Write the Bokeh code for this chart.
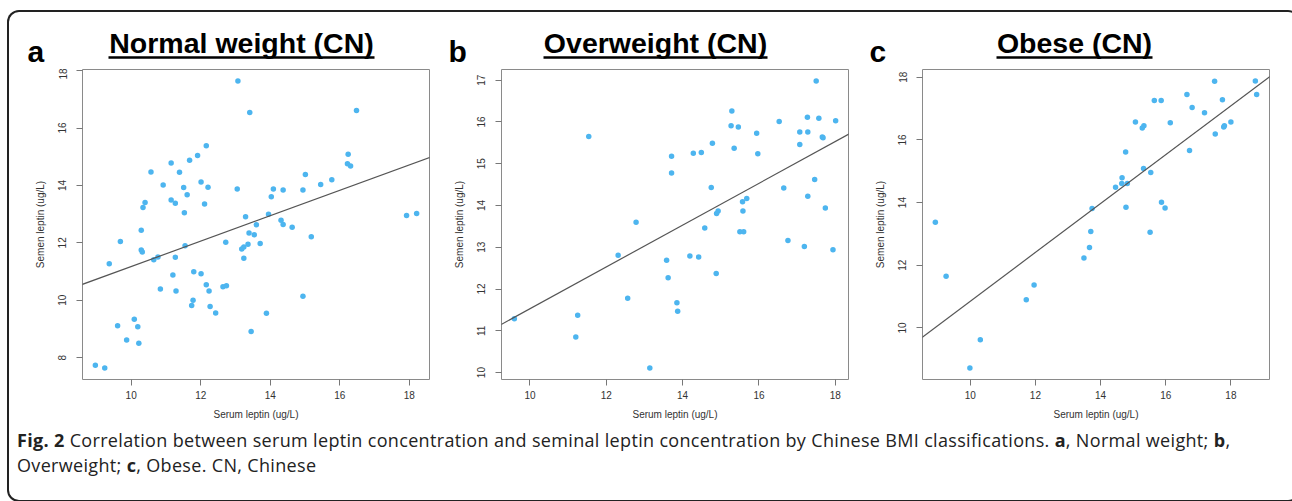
from bokeh.plotting import figure
from bokeh.models import Range1d, FixedTicker, Slope, Div, Spacer
from bokeh.layouts import column, row
from bokeh.embed import file_html
from bokeh.resources import INLINE
from bokeh.core.properties import value

# ---------------- data ----------------
a_serum = [13.07, 13.41, 16.48, 12.16, 11.91, 11.68, 11.15, 10.57, 11.39, 12.01,
           10.92, 11.51, 12.21, 13.05, 14.09, 14.37, 14.94, 15.01, 15.45, 15.77,
           16.24, 16.22, 16.31, 11.61, 14.03, 11.15, 11.27, 10.40, 10.34, 12.11,
           11.53, 13.29, 13.95, 14.31, 14.37, 13.60, 14.63, 10.29, 13.39, 13.54,
           15.18, 9.69, 12.72, 13.71, 13.36, 13.24, 13.18, 11.55, 10.29, 10.32,
           13.24, 17.92, 18.21, 9.37, 10.77, 10.65, 11.27, 11.80, 12.01, 11.20,
           12.16, 12.64, 12.74, 10.84, 11.29, 12.24, 14.94, 11.78, 11.74, 12.27,
           12.43, 13.89, 10.09, 9.61, 10.19, 9.87, 10.22, 13.45, 8.97, 9.24]
a_semen = [17.64, 16.54, 16.61, 15.38, 15.04, 14.88, 14.78, 14.47, 14.46, 14.12,
           14.02, 13.93, 13.94, 13.88, 13.88, 13.84, 13.84, 14.38, 14.03, 14.20,
           15.09, 14.76, 14.68, 13.68, 13.61, 13.49, 13.38, 13.41, 13.23, 13.35,
           13.05, 12.91, 13.00, 12.79, 12.64, 12.63, 12.54, 12.44, 12.34, 12.28,
           12.21, 12.05, 12.02, 11.98, 11.95, 11.86, 11.79, 11.90, 11.75, 11.68,
           11.46, 12.95, 13.02, 11.27, 11.51, 11.41, 11.50, 10.99, 10.92, 10.88,
           10.54, 10.47, 10.51, 10.39, 10.32, 10.32, 10.14, 10.00, 9.82, 9.78,
           9.56, 9.55, 9.34, 9.11, 9.08, 8.62, 8.50, 8.91, 7.74, 7.64]

b_serum = [17.50, 15.29, 15.27, 15.46, 16.53, 17.27, 17.57, 18.01, 11.54, 15.35,
           15.94, 17.07, 17.28, 17.07, 17.66, 17.68, 15.97, 14.78, 14.28, 14.49,
           13.71, 13.71, 14.75, 16.65, 17.46, 17.28, 15.68, 15.57, 15.58, 17.74,
           14.93, 14.89, 12.78, 14.58, 15.50, 15.60, 16.76, 17.19, 17.94, 12.31,
           14.19, 14.42, 13.58, 13.62, 14.88, 12.56, 13.85, 13.87, 9.59, 11.25,
           11.20, 13.14]
b_semen = [16.98, 16.26, 15.91, 15.88, 16.01, 16.11, 16.09, 16.03, 15.65, 15.37,
           15.73, 15.76, 15.76, 15.46, 15.64, 15.62, 15.24, 15.49, 15.25, 15.27,
           15.18, 14.78, 14.43, 14.42, 14.62, 14.22, 14.17, 14.09, 13.87, 13.94,
           13.87, 13.81, 13.60, 13.46, 13.37, 13.37, 13.16, 13.02, 12.94, 12.81,
           12.79, 12.77, 12.69, 12.27, 12.37, 11.78, 11.67, 11.47, 11.29, 11.37,
           10.85, 10.11]

c_serum = [17.50, 18.75, 18.79, 16.65, 15.65, 15.86, 17.74, 16.81, 17.19, 15.07,
           15.33, 15.28, 16.14, 18.00, 17.80, 17.78, 17.52, 16.73, 14.77, 15.32,
           15.54, 14.66, 14.65, 14.82, 14.46, 15.87, 15.98, 14.78, 13.74, 8.93,
           13.70, 15.52, 13.66, 13.49, 9.26, 11.96, 11.72, 10.31, 9.99]
c_semen = [17.87, 17.88, 17.45, 17.45, 17.26, 17.26, 17.28, 17.03, 16.87, 16.57,
           16.45, 16.38, 16.55, 16.57, 16.45, 16.41, 16.19, 15.66, 15.61, 15.09,
           14.96, 14.79, 14.61, 14.61, 14.49, 14.01, 13.83, 13.85, 13.81, 13.37,
           13.08, 13.05, 12.57, 12.23, 11.65, 11.37, 10.90, 9.62, 8.72]

# regression lines (intercept, slope)
fit_a = (6.75, 0.4425)
fit_b = (6.53, 0.50)
fit_c = (3.05, 0.78)

x_ticks = [10, 12, 14, 16, 18]
a_y_ticks = [8, 10, 12, 14, 16, 18]
b_y_ticks = [10, 11, 12, 13, 14, 15, 16, 17]
c_y_ticks = [10, 12, 14, 16, 18]

letters = ["a", "b", "c"]
titles = ["Normal weight (CN)", "Overweight (CN)", "Obese (CN)"]
x_label = "Serum leptin (ug/L)"
y_label = "Semen leptin (ug/L)"

# ---------------- styling / layout ----------------
FONT = "Liberation Sans"
PT_COLOR = "#4db5ef"
STRIP_W, STRIP_H = 1283, 58
H_PLOT = 362
TOP = 1
BOTTOM = 51


def r_range(v):
    lo, hi = min(v), max(v)
    pad = 0.04 * (hi - lo)
    return Range1d(lo - pad, hi + pad)


def panel(xs, ys, yt, fit, width, left, right):
    p = figure(width=width, height=H_PLOT, x_range=r_range(xs), y_range=r_range(ys),
               output_backend="svg", toolbar_location=None,
               min_border_left=left, min_border_right=right,
               min_border_top=TOP, min_border_bottom=BOTTOM)
    p.grid.visible = False
    p.background_fill_alpha = 0
    p.border_fill_alpha = 0
    p.outline_line_color = "#8a8a8a"
    p.outline_line_width = 1
    p.scatter(xs, ys, size=5.5, fill_color=PT_COLOR, line_color=None)
    p.add_layout(Slope(gradient=fit[1], y_intercept=fit[0],
                       line_color="#555555", line_width=1.2))
    p.xaxis.ticker = FixedTicker(ticks=x_ticks)
    p.yaxis.ticker = FixedTicker(ticks=yt)
    for ax in (p.xaxis[0], p.yaxis[0]):
        ax.axis_line_color = None
        ax.major_tick_line_color = "#777777"
        ax.major_tick_in = 0
        ax.major_tick_out = 6
        ax.minor_tick_line_color = None
        ax.major_label_text_font = FONT
        ax.major_label_text_font_size = "10px"
        ax.major_label_text_color = "#333333"
        ax.axis_label_text_font = FONT
        ax.axis_label_text_font_size = "10px"
        ax.axis_label_text_font_style = "normal"
        ax.axis_label_text_color = "#333333"
    p.xaxis.axis_label = x_label
    p.yaxis.axis_label = y_label
    p.yaxis.major_label_orientation = "vertical"
    p.xaxis.major_label_standoff = 5
    p.xaxis.axis_label_standoff = 7
    p.yaxis.major_label_standoff = 10
    p.yaxis.axis_label_standoff = 10
    return p


pa = panel(a_serum, a_semen, a_y_ticks, fit_a, 439, 75, 17)
pb = panel(b_serum, b_semen, b_y_ticks, fit_b, 422, 55, 20)
pc = panel(c_serum, c_semen, c_y_ticks, fit_c, 422, 54, 21)

# header strip with panel letters and underlined titles (pixel layout coordinates, y up)
letter_x = [20, 441, 862]
letter_y = [17.5, 17.5, 17.5]
title_cx = [234, 648, 1067]
title_half = [133, 112, 78]
title_y = [25.5, 25.5, 25.5]
ul_y = [11, 11, 11]

hs = figure(width=STRIP_W, height=STRIP_H, x_range=Range1d(0, STRIP_W),
            y_range=Range1d(0, STRIP_H), output_backend="svg", toolbar_location=None,
            min_border_left=0, min_border_right=0, min_border_top=0, min_border_bottom=0)
hs.axis.visible = False
hs.grid.visible = False
hs.outline_line_color = None
hs.background_fill_alpha = 0
hs.border_fill_alpha = 0
hs.text(x=letter_x, y=letter_y, text=letters, text_font=value(FONT),
        text_font_size="30px", text_font_style="bold", text_color="#000000",
        text_align="left", text_baseline="alphabetic")
hs.text(x=title_cx, y=title_y, text=titles, text_font=value(FONT),
        text_font_size="28.5px", text_font_style="bold", text_color="#000000",
        text_align="center", text_baseline="alphabetic")
hs.segment(x0=[c - h for c, h in zip(title_cx, title_half)], y0=ul_y,
           x1=[c + h for c, h in zip(title_cx, title_half)], y1=ul_y,
           line_color="#000000", line_width=2.5)

caption = Div(
    text=('<b>Fig. 2</b> Correlation between serum leptin concentration and seminal leptin '
          'concentration by Chinese BMI classifications. <b>a</b>, Normal weight; <b>b</b>,<br>'
          'Overweight; <b>c</b>, Obese. CN, Chinese'),
    width=STRIP_W, height=69,
    styles={"font-family": "'Open Sans'", "font-size": "18px", "line-height": "25px",
            "letter-spacing": "0.33px", "color": "#222222", "padding-left": "5px",
            "padding-top": "0px", "margin-top": "-2px", "white-space": "nowrap"})

inner = column(hs, row(pa, pb, pc), caption,
               styles={"box-shadow": "inset 0 0 0 2px #222222", "border-radius": "12px"})
layout = column(Spacer(height=10), row(Spacer(width=7), inner))

open("out.html", "w").write(file_html(layout, INLINE))
